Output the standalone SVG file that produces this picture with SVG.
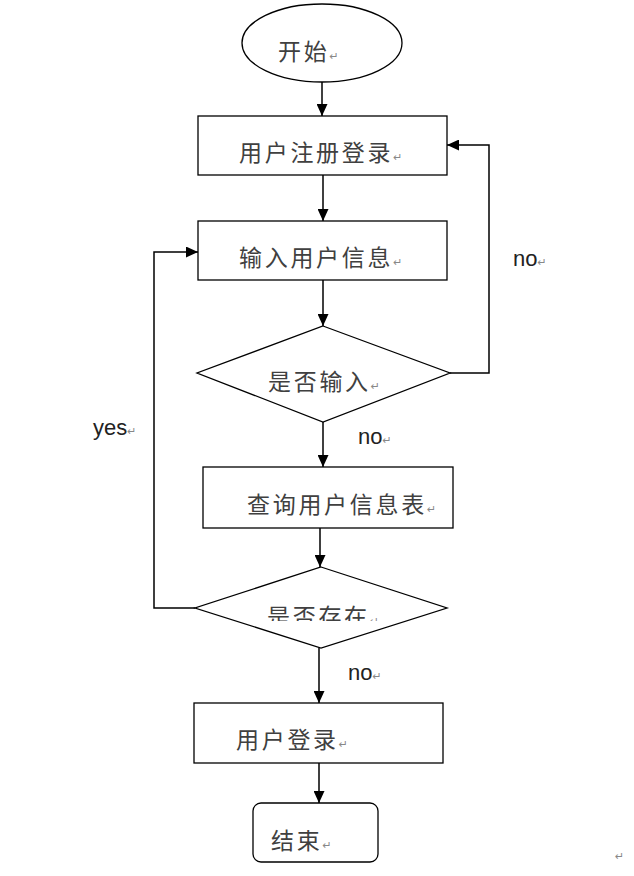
<svg xmlns="http://www.w3.org/2000/svg" width="634" height="876" viewBox="0 0 634 876">
  <style>
    .shape { fill: #ffffff; stroke: #000000; stroke-width: 1.3; }
    .conn { fill: none; stroke: #000000; stroke-width: 1.5; }
    .cjk { font-family: "Noto Sans CJK SC", "Noto Sans", sans-serif; font-size: 23px; fill: #404040; letter-spacing: 2.7px; }
    .lbl { font-family: "Liberation Sans", Arial, sans-serif; font-size: 22px; fill: #222222; }
    .ret { font-family: "DejaVu Sans", sans-serif; font-size: 11px; fill: #888888; letter-spacing: 0; }
  </style>
  <defs>
    <marker id="arrow" markerWidth="12" markerHeight="11" refX="12" refY="5.5" orient="auto" markerUnits="userSpaceOnUse">
      <path d="M0,0 L12,5.5 L0,11 Z" fill="#000000"/>
    </marker>
    <clipPath id="clipD2">
      <rect x="190" y="560" width="270" height="61"/>
    </clipPath>
  </defs>
  <rect width="634" height="876" fill="#ffffff"/>

  <g id="connectors">
    <line class="conn" x1="322" y1="82" x2="322" y2="116" marker-end="url(#arrow)"/>
    <line class="conn" x1="323" y1="175" x2="323" y2="221" marker-end="url(#arrow)"/>
    <line class="conn" x1="323" y1="280" x2="323" y2="326" marker-end="url(#arrow)"/>
    <line class="conn" x1="323" y1="422" x2="323" y2="467" marker-end="url(#arrow)"/>
    <line class="conn" x1="320" y1="528" x2="320" y2="567" marker-end="url(#arrow)"/>
    <line class="conn" x1="319" y1="648" x2="319" y2="703" marker-end="url(#arrow)"/>
    <line class="conn" x1="319" y1="763" x2="319" y2="803" marker-end="url(#arrow)"/>
    <polyline class="conn" points="450,373 489,373 489,145 447,145" marker-end="url(#arrow)"/>
    <polyline class="conn" points="195,608 154,608 154,252 198,252" marker-end="url(#arrow)"/>
    <text class="lbl" x="513" y="266">no<tspan class="ret">↵</tspan></text>
    <text class="lbl" x="358" y="444">no<tspan class="ret">↵</tspan></text>
    <text class="lbl" x="93" y="435">yes<tspan class="ret">↵</tspan></text>
    <text class="lbl" x="348" y="680">no<tspan class="ret">↵</tspan></text>
  </g>

  <g id="start">
    <ellipse class="shape" cx="322" cy="43" rx="80" ry="39"/>
    <text class="cjk" x="278" y="60">开始<tspan class="ret">↵</tspan></text>
  </g>

  <g id="register">
    <rect class="shape" x="198" y="116" width="249" height="59"/>
    <text class="cjk" x="239" y="161">用户注册登录<tspan class="ret">↵</tspan></text>
  </g>

  <g id="input">
    <rect class="shape" x="198" y="221" width="249" height="59"/>
    <text class="cjk" x="239" y="266">输入用户信息<tspan class="ret">↵</tspan></text>
  </g>

  <g id="decision-input">
    <polygon class="shape" points="323,326 450,373 323,422 197,373"/>
    <text class="cjk" x="268" y="390">是否输入<tspan class="ret">↵</tspan></text>
  </g>

  <g id="query">
    <rect class="shape" x="203" y="467" width="250" height="61"/>
    <text class="cjk" x="247" y="513">查询用户信息表<tspan class="ret">↵</tspan></text>
  </g>

  <g id="decision-exists">
    <polygon class="shape" points="321,567 447,608 321,648 195,608"/>
    <text class="cjk" x="267" y="625" clip-path="url(#clipD2)">是否存在<tspan class="ret">↵</tspan></text>
  </g>

  <g id="login">
    <rect class="shape" x="194" y="703" width="249" height="60"/>
    <text class="cjk" x="236" y="748">用户登录<tspan class="ret">↵</tspan></text>
  </g>

  <g id="end">
    <rect class="shape" x="253" y="803" width="125" height="59" rx="8" ry="8"/>
    <text class="cjk" x="271" y="849">结束<tspan class="ret">↵</tspan></text>
  </g>

  <text class="ret" x="615" y="860">↵</text>
</svg>
